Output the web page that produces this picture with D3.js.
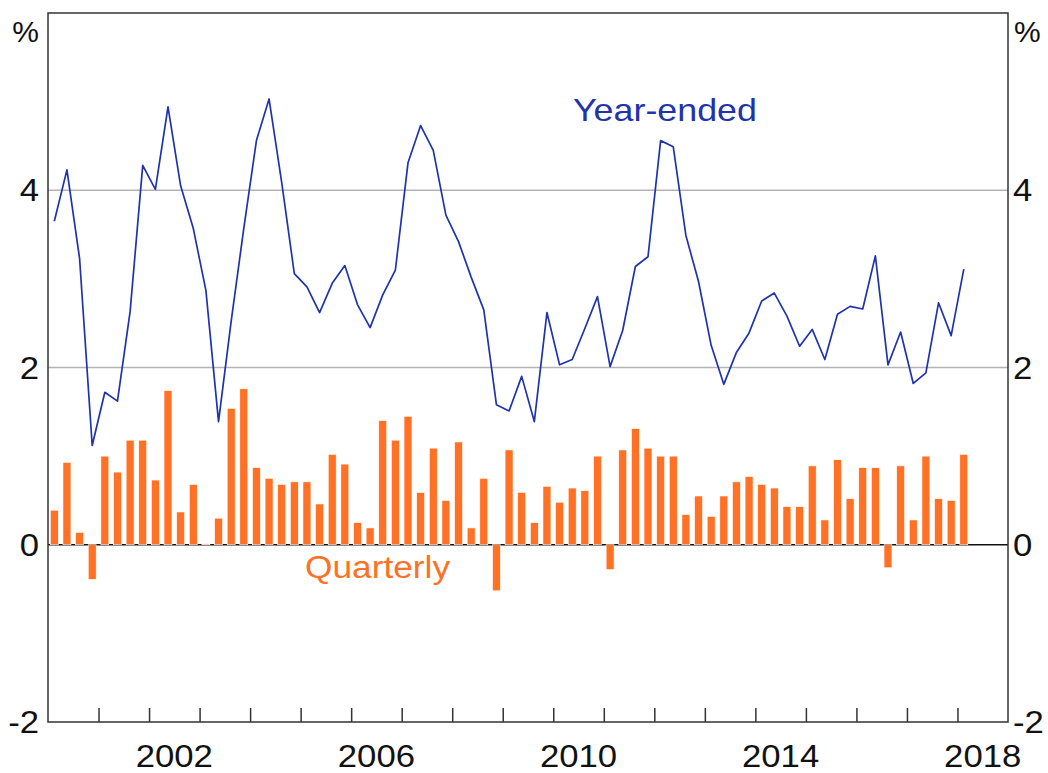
<!DOCTYPE html>
<html>
<head>
<meta charset="utf-8">
<script src="https://cdn.jsdelivr.net/npm/d3@7"></script>
<style>
  body { margin: 0; background: #fff; }
  text { font-family: "Liberation Sans", Arial, sans-serif; }
</style>
</head>
<body>
<div id="chart"></div>
<script>
// quarters run from Mar 2000 to Mar 2018
let firstYear = 2000, numQuarters = 73;

let quarterly = [0.39, 0.93, 0.14, -0.39, 1.00, 0.82, 1.18, 1.18, 0.73, 1.74,
    0.37, 0.68, 0.01, 0.30, 1.54, 1.76, 0.87, 0.75, 0.68, 0.71,
    0.71, 0.46, 1.02, 0.91, 0.25, 0.19, 1.40, 1.18, 1.45, 0.59,
    1.09, 0.50, 1.16, 0.19, 0.75, -0.52, 1.07, 0.59, 0.25, 0.66,
    0.48, 0.64, 0.61, 1.00, -0.28, 1.07, 1.31, 1.09, 1.00, 1.00,
    0.34, 0.55, 0.32, 0.55, 0.71, 0.77, 0.68, 0.64, 0.43, 0.43,
    0.89, 0.28, 0.96, 0.52, 0.87, 0.87, -0.26, 0.89, 0.28, 1.00,
    0.52, 0.50, 1.02];

let yearEnded = [3.65, 4.23, 3.23, 1.12, 1.72, 1.62, 2.63, 4.28, 4.01, 4.94,
    4.05, 3.57, 2.87, 1.39, 2.52, 3.57, 4.56, 5.03, 4.09, 3.06,
    2.91, 2.62, 2.95, 3.15, 2.71, 2.45, 2.82, 3.10, 4.31, 4.73,
    4.45, 3.72, 3.42, 3.02, 2.65, 1.58, 1.51, 1.90, 1.39, 2.62,
    2.03, 2.09, 2.44, 2.80, 2.01, 2.42, 3.14, 3.25, 4.56, 4.49,
    3.49, 2.97, 2.25, 1.81, 2.17, 2.39, 2.75, 2.84, 2.58, 2.24,
    2.43, 2.09, 2.60, 2.69, 2.66, 3.26, 2.03, 2.40, 1.82, 1.94,
    2.73, 2.36, 3.11];

let yTicks = [-2, 0, 2, 4];
let gridValues = [2, 4];
let yearLabels = [2002, 2006, 2010, 2014, 2018];

const width = 1048, height = 773;
const margin = { top: 13, right: 40, bottom: 51, left: 48 };
const blue = "#1f33ad", orange = "#ff7124";
const stretch = "scale(1.12,1)";

let quarters = d3.range(numQuarters).map(function (i) {
    return { year: firstYear + Math.floor(i / 4), q: i % 4 };
});

let x = d3.scaleLinear()
    .domain([2000, 2019])
    .range([margin.left, width - margin.right]);

let y = d3.scaleLinear()
    .domain([-2, 6])
    .range([height - margin.bottom, margin.top]);

let qx = function (i) { return x(quarters[i].year + (quarters[i].q + 0.5) / 4); };
let barW = (x(2001) - x(2000)) / 4 * 0.63;

let svg = d3.select("#chart")
    .append("svg")
    .attr("width", width)
    .attr("height", height);

svg.selectAll(".grid")
    .data(gridValues)
    .enter()
    .append("line")
    .attr("x1", x(2000)).attr("x2", x(2019))
    .attr("y1", d => y(d)).attr("y2", d => y(d))
    .attr("stroke", "#b4b4b4")
    .attr("stroke-width", 1.5);

svg.append("line")
    .attr("x1", x(2000)).attr("x2", x(2019))
    .attr("y1", y(0)).attr("y2", y(0))
    .attr("stroke", "#111")
    .attr("stroke-width", 1.5);

svg.selectAll(".bar")
    .data(quarterly)
    .enter()
    .append("rect")
    .attr("x", (d, i) => qx(i) - barW / 2)
    .attr("y", d => y(Math.max(0, d)))
    .attr("width", barW)
    .attr("height", d => Math.abs(y(d) - y(0)))
    .attr("fill", orange)
    .attr("stroke", "#fff")
    .attr("stroke-width", 0.6);

let line = d3.line()
    .x((d, i) => qx(i))
    .y(d => y(d));

svg.append("path")
    .datum(yearEnded)
    .attr("d", line)
    .attr("fill", "none")
    .attr("stroke", blue)
    .attr("stroke-width", 1.7)
    .attr("stroke-linejoin", "round");

// frame
svg.append("rect")
    .attr("x", x(2000)).attr("y", y(6))
    .attr("width", x(2019) - x(2000))
    .attr("height", y(-2) - y(6))
    .attr("fill", "none")
    .attr("stroke", "#333")
    .attr("stroke-width", 1.5);

// year ticks, inside the bottom edge
let xAxis = d3.axisBottom(x)
    .tickValues(d3.range(2001, 2019))
    .tickSizeInner(-14)
    .tickSizeOuter(0)
    .tickFormat("");

let gx = svg.append("g")
    .attr("transform", "translate(0," + y(-2) + ")")
    .call(xAxis);
gx.select(".domain").remove();
gx.selectAll("line").attr("stroke", "#333").attr("stroke-width", 1.5);

svg.selectAll(".year")
    .data(yearLabels)
    .enter()
    .append("text")
    .attr("transform", d => "translate(" + x(d + 0.5) + ",767) " + stretch)
    .attr("text-anchor", "middle")
    .attr("font-size", 31)
    .attr("fill", "#111")
    .text(d => d);

svg.selectAll(".ylab")
    .data(yTicks)
    .enter()
    .append("text")
    .attr("transform", d => "translate(39," + (y(d) + 11) + ") " + stretch)
    .attr("text-anchor", "end")
    .attr("font-size", 31)
    .attr("fill", "#111")
    .text(d => d);

svg.selectAll(".ylabR")
    .data(yTicks)
    .enter()
    .append("text")
    .attr("transform", d => "translate(1013," + (y(d) + 11) + ") " + stretch)
    .attr("text-anchor", "start")
    .attr("font-size", 31)
    .attr("fill", "#111")
    .text(d => d);

svg.append("text")
    .attr("transform", "translate(39,42)")
    .attr("text-anchor", "end")
    .attr("font-size", 30)
    .attr("fill", "#111")
    .text("%");

svg.append("text")
    .attr("transform", "translate(1014,42)")
    .attr("text-anchor", "start")
    .attr("font-size", 30)
    .attr("fill", "#111")
    .text("%");

svg.append("text")
    .attr("transform", "translate(573,121) " + stretch)
    .attr("font-size", 32)
    .attr("fill", blue)
    .text("Year-ended");

svg.append("text")
    .attr("transform", "translate(305,578) " + stretch)
    .attr("font-size", 31.5)
    .attr("fill", orange)
    .text("Quarterly");
</script>
</body>
</html>
